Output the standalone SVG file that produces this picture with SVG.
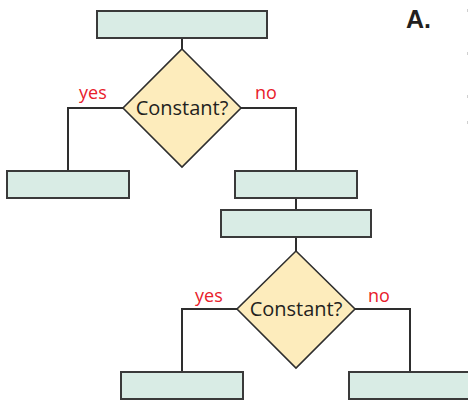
<svg xmlns="http://www.w3.org/2000/svg" width="468" height="401" viewBox="0 0 468 401">
  <style>
    .box { fill: #d9ece5; stroke: #3a3a3a; stroke-width: 2; }
    .dec { fill: #fdecbc; stroke: #2e2e2e; stroke-width: 1.6; }
    .wire { fill: none; stroke: #2e2e2e; stroke-width: 2; }
    .q { font-family: "Open Sans", "Noto Sans", sans-serif; font-size: 20px; fill: #231f20; text-anchor: middle; }
    .lbl { font-family: "Open Sans", "Noto Sans", sans-serif; font-size: 18px; fill: #e8202a; }
    .title { font-family: "Liberation Sans", Arial, sans-serif; font-weight: bold; font-size: 25px; fill: #231f20; }
  </style>

  <rect width="468" height="401" fill="#ffffff"/>

  <!-- connectors -->
  <g id="connectors">
    <path class="wire" d="M182 38 V49"/>
    <path class="wire" d="M123 108 H68 V171"/>
    <path class="wire" d="M241 108 H296 V171"/>
    <path class="wire" d="M296 198 V210"/>
    <path class="wire" d="M296 237 V251"/>
    <path class="wire" d="M237 309 H182 V372"/>
    <path class="wire" d="M355 309 H410 V372"/>
  </g>

  <!-- branch labels -->
  <g id="labels">
    <text class="lbl" x="79" y="99">yes</text>
    <text class="lbl" x="255" y="99">no</text>
    <text class="lbl" x="195" y="302">yes</text>
    <text class="lbl" x="368" y="302">no</text>
  </g>

  <g id="start">
    <rect class="box" x="97" y="11" width="170" height="27"/>
  </g>

  <g id="decision1">
    <polygon class="dec" points="182,49 241,108 182,167 123,108"/>
    <text class="q" x="182" y="115">Constant?</text>
  </g>

  <g id="yes1">
    <rect class="box" x="7" y="171" width="122" height="27"/>
  </g>

  <g id="no1">
    <rect class="box" x="235" y="171" width="122" height="27"/>
  </g>

  <g id="step2">
    <rect class="box" x="221" y="210" width="150" height="27"/>
  </g>

  <g id="decision2">
    <polygon class="dec" points="296,251 355,309 296,368 237,309"/>
    <text class="q" x="296" y="316">Constant?</text>
  </g>

  <g id="yes2">
    <rect class="box" x="121" y="372" width="122" height="27"/>
  </g>

  <g id="no2">
    <rect class="box" x="349" y="372" width="130" height="27"/>
  </g>

  <text class="title" x="406" y="28">A.</text>

  <!-- clipped edge marks at right border -->
  <g fill="#d0d0d0">
    <rect x="467" y="9" width="1" height="3"/>
    <rect x="467" y="52" width="1" height="3"/>
    <rect x="467" y="95" width="1" height="3"/>
    <rect x="467" y="121" width="1" height="3"/>
  </g>
</svg>
